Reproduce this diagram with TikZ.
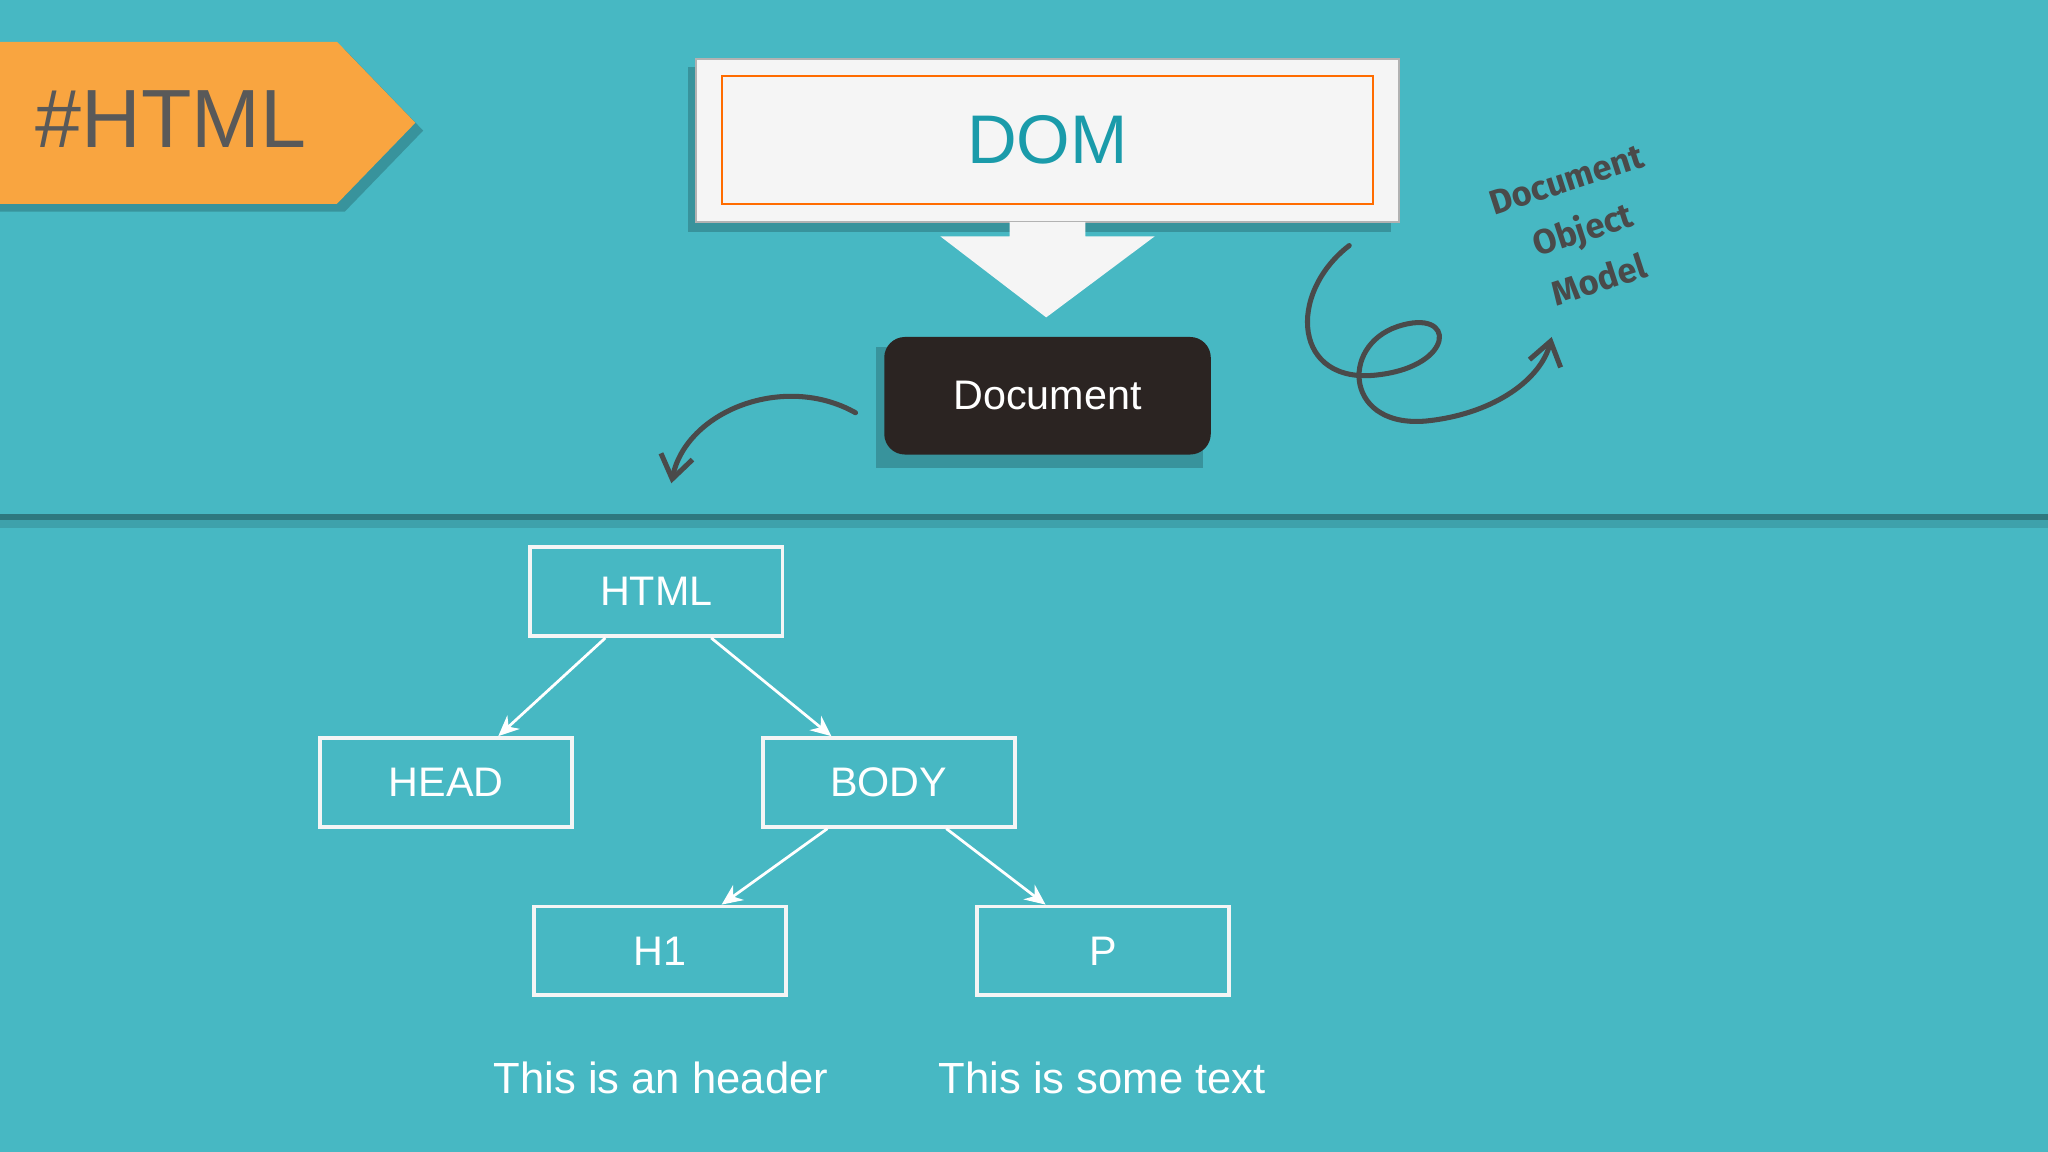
\documentclass[tikz,border=0pt]{standalone}
\usepackage{fontspec}
\setmainfont{Liberation Sans}
\newfontfamily\handfont{Fira Sans}
\usetikzlibrary{arrows.meta,shadows}
\definecolor{bg}{HTML}{47B8C3}
\definecolor{tagor}{HTML}{F9A540}
\definecolor{domtxt}{HTML}{1A9BAA}
\definecolor{docbg}{HTML}{2B2422}
\definecolor{scrib}{HTML}{4A4A4A}
\tikzset{
  treebox/.style={draw=white!92!gray, line width=1.6pt, minimum width=193*0.02cm, minimum height=68*0.02cm, text=white, font=\fontsize{18}{22}\selectfont, inner sep=0pt},
  treearrow/.style={draw=white, line width=1.2pt, -{Stealth[length=9pt,width=8pt]}},
  lbl/.style={text=white, font=\fontsize{19}{22}\selectfont},
}
\begin{document}
\begin{tikzpicture}[x=0.02cm,y=-0.02cm]
\fill[bg] (0,0) rectangle (1568,882);
\useasboundingbox (0,0) rectangle (1568,882);
% divider
\fill[black,opacity=0.12] (0,396) rectangle (1568,404);
\draw[line width=2.5pt,color=bg!65!black] (0,396) -- (1568,396);
% tag
\fill[black,opacity=0.2] (0,38) -- (264,38) -- (324,100) -- (264,162) -- (0,162) -- cycle;
\fill[tagor] (0,32) -- (258,32) -- (318,94) -- (258,156) -- (0,156) -- cycle;
\node[text=black!65, font=\fontsize{36}{40}\selectfont] (tag) at (131,91) {\#HTML};
% DOM
\fill[black,opacity=0.2] (527,51) rectangle (1065,178);
\node[draw=gray!60, line width=1pt, fill=gray!8, minimum width=538*0.02cm, minimum height=125*0.02cm, inner sep=0pt] (domouter) at (802,107.5) {};
\node[draw=orange!85!red, line width=1pt, minimum width=498*0.02cm, minimum height=98*0.02cm, inner sep=0pt, text=domtxt, font=\fontsize{30}{34}\selectfont] (dom) at (802,107) {DOM};
\fill[gray!8] (773,170) -- (773,181) -- (720,181) -- (801,243) -- (884,181) -- (831,181) -- (831,170) -- cycle;
% Document
\fill[black,opacity=0.2] (671,266) rectangle (921,358);
\node[fill=docbg, rounded corners=9pt, minimum width=250*0.02cm, minimum height=90*0.02cm, text=white, font=\fontsize{18}{22}\selectfont] (doc) at (802,303) {Document};
\coordinate (c1) at (655,316);
\coordinate (c2) at (514,370);
\draw[scrib, line width=2.2pt, line cap=round, -{Straight Barb[length=10pt,width=14pt]}] (c1) .. controls (600,285) and (525,315) .. (c2);
% squiggle
\coordinate (s1) at (1033,188);
\coordinate (s2) at (1188,258);
\draw[scrib, line width=2.2pt, line cap=round, -{Straight Barb[length=10pt,width=14pt]}] (s1) .. controls (985,225) and (990,295) .. (1055,287) .. controls (1115,280) and (1115,235) .. (1070,250) .. controls (1025,265) and (1030,330) .. (1095,322) .. controls (1145,316) and (1180,290) .. (s2);
\node[rotate=18, text=scrib, font=\handfont\bfseries\fontsize{15}{23}\selectfont, align=center] (dom2) at (1212,176) {Document\\Object\\Model};
% tree
\node[treebox] (html) at (502.5,453) {HTML};
\node[treebox] (head) at (341.5,599) {HEAD};
\node[treebox] (body) at (680.5,599) {BODY};
\node[treebox] (h1) at (505.5,728) {H1};
\node[treebox] (p) at (844.5,728) {P};
\draw[treearrow] ([xshift=-39*0.02cm]html.south) -- ([xshift=40*0.02cm]head.north);
\draw[treearrow] ([xshift=42*0.02cm]html.south) -- ([xshift=-44*0.02cm]body.north);
\draw[treearrow] ([xshift=-47*0.02cm]body.south) -- ([xshift=47*0.02cm]h1.north);
\draw[treearrow] ([xshift=44*0.02cm]body.south) -- ([xshift=-44*0.02cm]p.north);
\node[lbl] (l1) at (506,825) {This is an header};
\node[lbl] (l2) at (844,825) {This is some text};
\end{tikzpicture}
\end{document}
